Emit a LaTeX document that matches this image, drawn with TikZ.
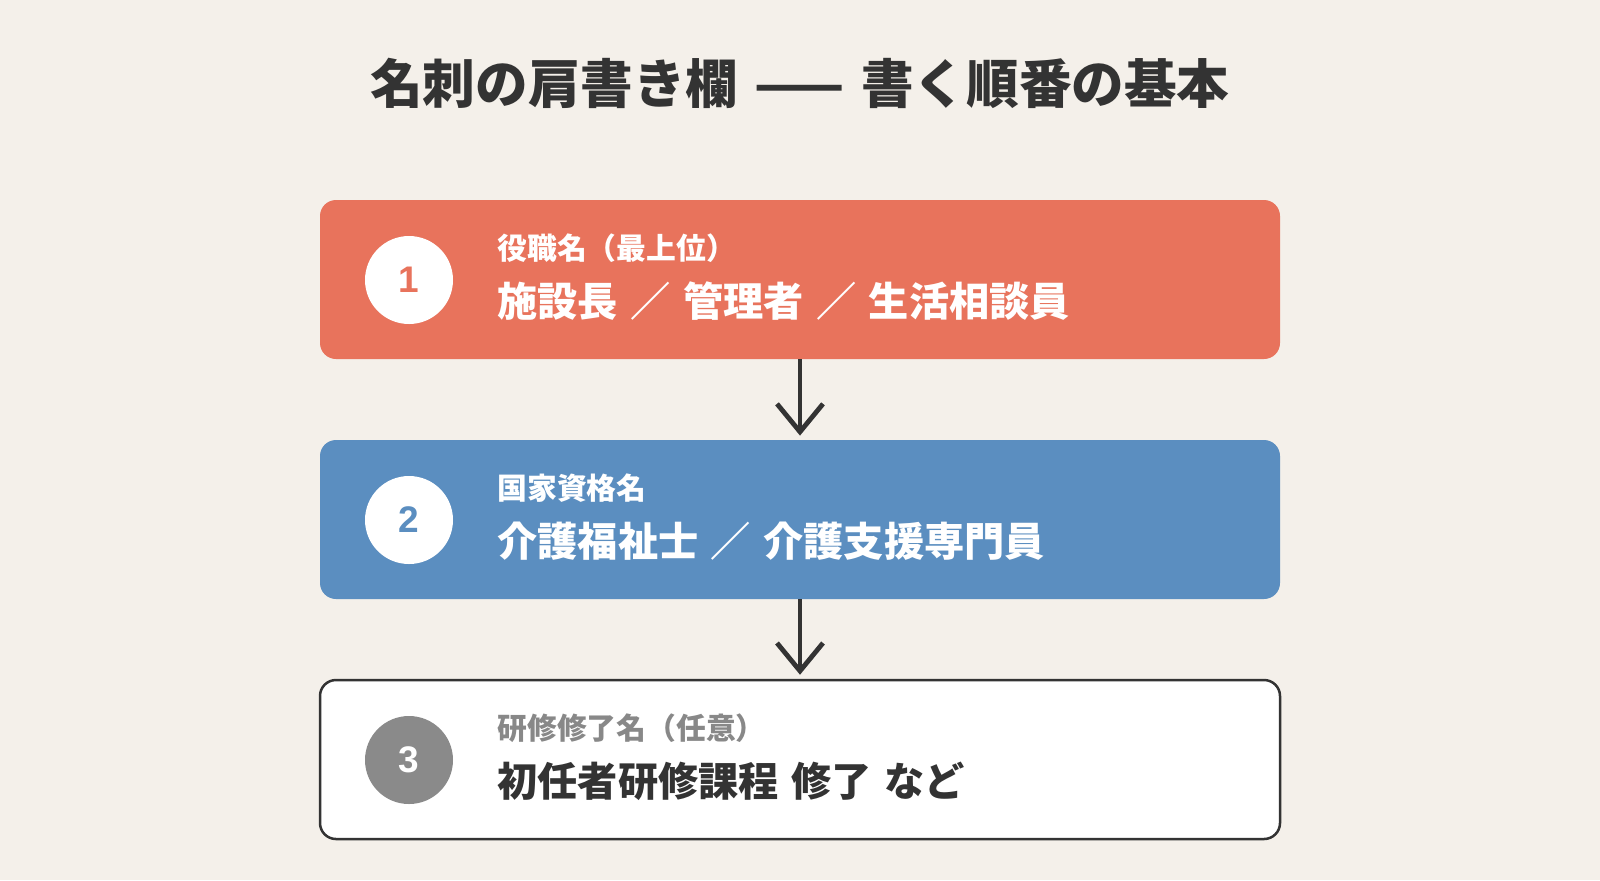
\documentclass[tikz,border=0pt]{standalone}
\usepackage{fontspec}
\setmainfont{Noto Sans CJK JP}
\newfontfamily\numf{Liberation Sans}
\usetikzlibrary{arrows.meta}
\definecolor{bg}{HTML}{F4F0EA}
\definecolor{redc}{HTML}{E8735C}
\definecolor{bluec}{HTML}{5B8EC0}
\definecolor{darkc}{HTML}{333333}
\definecolor{greyc}{HTML}{8A8A8A}
\definecolor{labelgrey}{HTML}{888888}
\newcommand{\gapsp}{\hspace{0.31em}}
\tikzset{
  stepbox/.style={rounded corners=8pt, minimum width=480pt, minimum height=79.5pt, inner sep=0pt},
  numcircle/.style={circle, fill=white, minimum size=44pt, inner sep=0pt, font=\numf\bfseries\fontsize{18.5}{18.5}\selectfont},
  lbl/.style={anchor=base west, inner sep=0pt, font=\bfseries\fontsize{14.9}{14.9}\selectfont, text=white},
  maintext/.style={anchor=base west, inner sep=0pt, font=\bfseries\fontsize{20.1}{20.1}\selectfont, text=white},
  flowarrow/.style={draw=darkc, line width=2.4pt, -{Straight Barb[length=14pt,width=23pt]}},
}
\begin{document}
\begin{tikzpicture}[x=0.5pt,y=-0.5pt]
\useasboundingbox (0,0) rectangle (1600,880);
\fill[bg] (0,0) rectangle (1600,880);

\node[anchor=base, inner sep=0pt, text=darkc, font=\bfseries\fontsize{26.3}{26.3}\selectfont] (title) at (800,103.5) {名刺の肩書き欄\gapsp ——\gapsp 書く順番の基本};

\node[stepbox, fill=redc] (b1) at (800,279.5) {};
\node[stepbox, fill=bluec] (b2) at (800,519.5) {};
\node[stepbox, fill=white, draw=darkc, line width=1.25pt] (b3) at (800,759.5) {};

\node[numcircle, text=redc] (c1) at (409,280) {1};
\node[numcircle, text=bluec] (c2) at (409,520) {2};
\node[numcircle, fill=greyc, text=white] (c3) at (409,760) {3};

\node[lbl] (l1) at (497,259) {役職名（最上位）};
\node[maintext] (m1) at (497,316) {施設長\gapsp ／\gapsp 管理者\gapsp ／\gapsp 生活相談員};
\node[lbl] (l2) at (497,499) {国家資格名};
\node[maintext] (m2) at (497,556) {介護福祉士\gapsp ／\gapsp 介護支援専門員};
\node[lbl, text=labelgrey] (l3) at (497,739) {研修修了名（任意）};
\node[maintext, text=darkc] (m3) at (497,796) {初任者研修課程\gapsp 修了\gapsp など};

\draw[flowarrow] (b1.south) -- ([yshift=2pt]b2.north);
\draw[flowarrow] (b2.south) -- ([yshift=2pt]b3.north);
\end{tikzpicture}
\end{document}
